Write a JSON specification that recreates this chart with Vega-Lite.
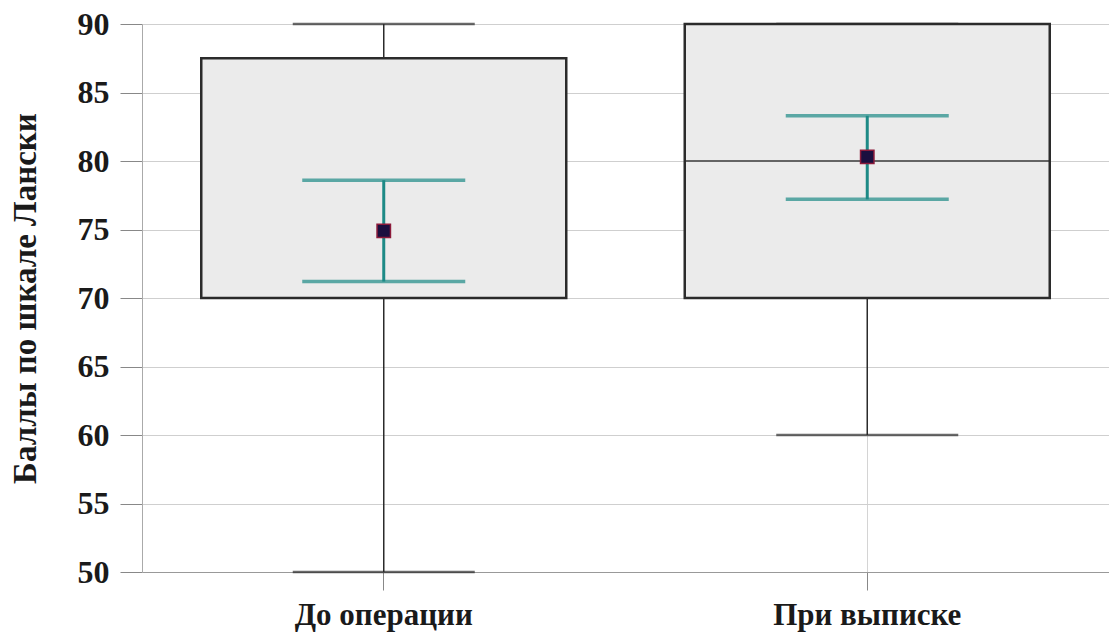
{
  "$schema": "https://vega.github.io/schema/vega-lite/v6.json",
  "width": 967,
  "height": 548,
  "autosize": {"type": "none"},
  "padding": {"left": 142, "top": 24, "right": 0, "bottom": 64},
  "background": "white",
  "config": {
    "view": {"stroke": null},
    "axis": {
      "labelFont": "Liberation Serif",
      "titleFont": "Liberation Serif",
      "labelFontWeight": "bold",
      "titleFontWeight": "bold",
      "labelColor": "#1a1a1a",
      "titleColor": "#1a1a1a"
    }
  },
  "data": {
    "values": [
      {"group": "До операции", "min": 50, "q1": 70, "median": 70, "q3": 87.5, "max": 90, "mean": 74.9, "ci_lo": 71.2, "ci_hi": 78.6},
      {"group": "При выписке", "min": 60, "q1": 70, "median": 80, "q3": 90, "max": 90, "mean": 80.3, "ci_lo": 77.2, "ci_hi": 83.3}
    ]
  },
  "encoding": {
    "x": {
      "field": "group",
      "type": "nominal",
      "sort": null,
      "scale": {"type": "band", "paddingInner": 0, "paddingOuter": 0},
      "axis": {
        "title": null,
        "labelAngle": 0,
        "labelFontSize": 31,
        "labelLimit": 400,
        "labelPadding": 10,
        "tickSize": 18,
        "tickColor": "#888888",
        "domainColor": "#999999",
        "grid": true,
        "gridColor": "#d4d4d4",
        "gridWidth": 1
      }
    }
  },
  "layer": [
    {
      "mark": {"type": "rule", "color": "#2b2b2b", "strokeWidth": 1.5},
      "encoding": {
        "y": {
          "field": "min",
          "type": "quantitative",
          "scale": {"domain": [50, 90], "nice": false, "zero": false},
          "axis": {
            "title": "Баллы по шкале Лански",
            "titleFontSize": 33,
            "titlePadding": 35,
            "labelFontSize": 32,
            "labelPadding": 11,
            "tickSize": 22,
            "tickColor": "#888888",
            "domainColor": "#aaaaaa",
            "values": [50, 55, 60, 65, 70, 75, 80, 85, 90],
            "grid": true,
            "gridColor": "#cfcfcf",
            "gridWidth": 1
          }
        },
        "y2": {"field": "max"}
      }
    },
    {
      "mark": {"type": "tick", "color": "#2b2b2b", "thickness": 2.5, "size": 182},
      "encoding": {"y": {"field": "min", "type": "quantitative"}}
    },
    {
      "mark": {"type": "tick", "color": "#2b2b2b", "thickness": 2.5, "size": 182},
      "encoding": {"y": {"field": "max", "type": "quantitative"}}
    },
    {
      "mark": {"type": "bar", "size": 365, "fill": "#ebebeb", "stroke": "#2b2b2b", "strokeWidth": 2.5},
      "encoding": {
        "y": {"field": "q1", "type": "quantitative"},
        "y2": {"field": "q3"}
      }
    },
    {
      "mark": {"type": "tick", "color": "#2b2b2b", "thickness": 2, "size": 365},
      "encoding": {"y": {"field": "median", "type": "quantitative"}}
    },
    {
      "mark": {"type": "rule", "color": "#1d8a86", "strokeWidth": 3},
      "encoding": {
        "y": {"field": "ci_lo", "type": "quantitative"},
        "y2": {"field": "ci_hi"}
      }
    },
    {
      "mark": {"type": "tick", "color": "#1d8a86", "thickness": 3.5, "size": 163},
      "encoding": {"y": {"field": "ci_lo", "type": "quantitative"}}
    },
    {
      "mark": {"type": "tick", "color": "#1d8a86", "thickness": 3.5, "size": 163},
      "encoding": {"y": {"field": "ci_hi", "type": "quantitative"}}
    },
    {
      "mark": {"type": "point", "shape": "square", "filled": true, "size": 180, "fill": "#1b0f3f", "stroke": "#8b1a3a", "strokeWidth": 1.5, "opacity": 1},
      "encoding": {"y": {"field": "mean", "type": "quantitative"}}
    }
  ]
}
